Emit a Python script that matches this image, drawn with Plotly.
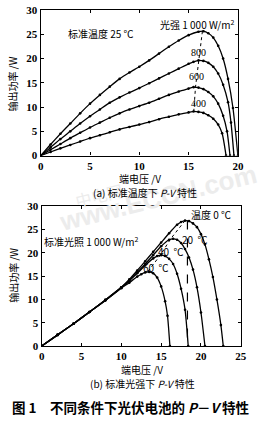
import plotly.graph_objects as go

# ---------------- data: (a) standard temperature 25 C ----------------
v_1000 = [0, 1, 2, 3, 4, 5, 6, 7, 8, 9, 10, 11, 12, 13, 14, 15, 16, 16.5, 17, 17.5, 18, 18.5, 19, 19.5, 20]
p_1000 = [0, 2.3, 4.5, 6.6, 8.7, 10.7, 12.5, 14.2, 15.8, 17.1, 18.3, 19.6, 21.0, 22.4, 23.7, 24.8, 25.5, 25.6, 25.2, 24.3, 22.6, 20.0, 15.8, 9.8, 0]

v_800 = [0, 1, 2, 3, 4, 5, 6, 7, 8, 9, 10, 11, 12, 13, 14, 15, 15.5, 16, 16.5, 17, 17.5, 18, 18.5, 19, 19.3, 19.6]
p_800 = [0, 1.7, 3.4, 5.0, 6.6, 8.1, 9.5, 10.9, 12.0, 13.0, 13.9, 14.9, 15.9, 16.9, 17.9, 18.9, 19.3, 19.6, 19.5, 19.1, 18.3, 16.9, 14.6, 11.0, 6.8, 0]

v_600 = [0, 1, 2, 3, 4, 5, 6, 7, 8, 9, 10, 11, 12, 13, 14, 15, 15.5, 16, 16.5, 17, 17.5, 18, 18.5, 18.9, 19.2]
p_600 = [0, 1.2, 2.4, 3.6, 4.7, 5.8, 6.8, 7.8, 8.7, 9.5, 10.2, 10.9, 11.7, 12.5, 13.2, 13.8, 14.1, 14.0, 13.7, 13.1, 12.2, 10.7, 8.2, 5.0, 0]

v_400 = [0, 1, 2, 3, 4, 5, 6, 7, 8, 9, 10, 11, 12, 13, 14, 15, 15.5, 16, 16.5, 17, 17.5, 18, 18.4, 18.8]
p_400 = [0, 0.75, 1.5, 2.2, 2.9, 3.6, 4.2, 4.8, 5.4, 5.9, 6.4, 6.9, 7.5, 8.0, 8.5, 8.9, 9.1, 9.0, 8.8, 8.3, 7.6, 6.4, 4.6, 0]

mpp_v_a = [16.4, 16.0, 15.7, 15.5]
mpp_p_a = [25.6, 19.6, 14.1, 8.4]

# ---------------- data: (b) standard irradiance 1000 W/m2 ----------------
v_t0 = [0, 2, 4, 6, 8, 10, 11, 12, 13, 14, 15, 16, 17, 17.5, 18, 18.5, 19, 19.5, 20, 20.5, 21, 21.5, 22, 22.5, 22.8]
p_t0 = [0, 2.4, 4.8, 7.3, 9.9, 12.6, 14.3, 16.2, 18.2, 20.2, 22.2, 24.2, 26.0, 26.6, 26.9, 26.8, 26.3, 25.5, 24.0, 21.8, 18.6, 14.8, 10.0, 4.5, 0]

v_t20 = [0, 2, 4, 6, 8, 10, 11, 12, 13, 14, 15, 16, 16.5, 17, 17.5, 18, 18.5, 19, 19.5, 20, 20.5]
p_t20 = [0, 2.4, 4.8, 7.3, 9.9, 12.6, 14.1, 15.8, 17.6, 19.5, 21.4, 22.8, 23.0, 22.8, 22.1, 20.8, 19.0, 16.4, 12.6, 7.2, 0]

v_t40 = [0, 2, 4, 6, 8, 10, 11, 12, 13, 14, 14.5, 15, 15.5, 16, 16.5, 17, 17.5, 18, 18.4]
p_t40 = [0, 2.4, 4.8, 7.3, 9.8, 12.5, 14.0, 15.6, 17.3, 18.8, 19.3, 19.5, 19.3, 18.7, 17.6, 15.5, 12.3, 7.8, 0]

v_t60 = [0, 2, 4, 6, 8, 10, 11, 12, 12.5, 13, 13.5, 14, 14.5, 15, 15.5, 15.8, 16.1]
p_t60 = [0, 2.4, 4.8, 7.3, 9.8, 12.4, 13.6, 14.9, 15.4, 15.8, 15.9, 15.6, 14.7, 12.8, 9.6, 6.5, 0]

mpp_v_b = [18.0, 16.2, 14.9, 13.3]
mpp_p_b = [26.9, 23.0, 19.5, 15.9]
vline_v = [18.3, 18.3]
vline_p = [26.9, 0]

xticks_a = [0, 5, 10, 15, 20]
xticks_b = [0, 5, 10, 15, 20, 25]
yticks = [0, 5, 10, 15, 20, 25, 30]

W, H = 270, 423
def px(x):
    return x / W
def py(y):
    return 1 - y / H

SERIF = "Liberation Serif"
CJK = "Noto Sans CJK SC"

fig = go.Figure()

curve_style = dict(mode="lines+markers", line=dict(color="black", width=1.3, shape="spline", smoothing=0.6),
                   marker=dict(size=2.6, color="black"), showlegend=False, hoverinfo="skip")

for v, p in [(v_1000, p_1000), (v_800, p_800), (v_600, p_600), (v_400, p_400)]:
    fig.add_trace(go.Scatter(x=v, y=p, xaxis="x", yaxis="y", **curve_style))
fig.add_trace(go.Scatter(x=mpp_v_a, y=mpp_p_a, xaxis="x", yaxis="y", mode="lines",
                         line=dict(color="black", width=1, dash="dot"), showlegend=False))

for v, p in [(v_t0, p_t0), (v_t20, p_t20), (v_t40, p_t40), (v_t60, p_t60)]:
    fig.add_trace(go.Scatter(x=v, y=p, xaxis="x2", yaxis="y2", **curve_style))
fig.add_trace(go.Scatter(x=mpp_v_b, y=mpp_p_b, xaxis="x2", yaxis="y2", mode="lines",
                         line=dict(color="black", width=1, dash="dot"), showlegend=False))
fig.add_trace(go.Scatter(x=vline_v, y=vline_p, xaxis="x2", yaxis="y2", mode="lines",
                         line=dict(color="black", width=1.2, dash="dash"), showlegend=False))

axis_common = dict(showgrid=False, zeroline=False, showline=True, linecolor="black", linewidth=1.3,
                   mirror="ticks", ticks="inside", ticklen=3, tickcolor="black", tickwidth=1,
                   tickfont=dict(family=SERIF, size=11, color="black", weight="bold"))

fig.update_layout(
    width=W, height=H, margin=dict(l=0, r=0, t=0, b=0),
    paper_bgcolor="white", plot_bgcolor="white",
    xaxis=dict(domain=[px(39), px(243)], range=[0, 20], tickvals=xticks_a, anchor="y", **axis_common),
    yaxis=dict(domain=[py(154), py(4)], range=[0, 30], tickvals=yticks, anchor="x", **axis_common),
    xaxis2=dict(domain=[px(40), px(246)], range=[0, 25], tickvals=xticks_b, anchor="y2", **axis_common),
    yaxis2=dict(domain=[py(350), py(206)], range=[0, 30], tickvals=yticks, anchor="x2", **axis_common),
)

ann = []
def txt(text, x, y, size=11, family=CJK, xref="paper", yref="paper", **kw):
    ann.append(dict(text=text, x=x, y=y, xref=xref, yref=yref, showarrow=False,
                    font=dict(family=family, size=size, color="black"), xanchor="center", yanchor="middle", **kw))

# watermark
ann.append(dict(text="www.ECCN.com", x=px(160), y=py(198), xref="paper", yref="paper", showarrow=False,
                textangle=-14, font=dict(family="Liberation Sans", size=26, color="#ececec", weight="bold")))
ann.append(dict(text="中电网", x=px(70), y=py(195), xref="paper", yref="paper", showarrow=False,
                textangle=-14, font=dict(family=CJK, size=16, color="#ececec")))

# (a) labels
txt("标准温度 25 ℃", 6.1, 25.2, size=10, xref="x", yref="y")
txt("光强 1 000 W/m<sup>2</sup>", 15.9, 27.0, size=10, xref="x", yref="y")
txt("800", 16.0, 21.2, size=10, family=SERIF, xref="x", yref="y")
txt("600", 15.8, 16.2, size=10, family=SERIF, xref="x", yref="y")
txt("400", 16.0, 10.8, size=10, family=SERIF, xref="x", yref="y")
txt("输出功率 /W", px(10), py(80), size=10, textangle=-90)
txt("端电压 /V", px(142), py(178), size=10)
txt("(a) 标准温度下 <i>P-V</i> 特性", px(147), py(192), size=10)

# (b) labels
txt("温度 0 ℃", 21.3, 28.3, size=10, xref="x2", yref="y2")
txt("标准光照 1 000 W/m<sup>2</sup>", 6.3, 22.4, size=10, xref="x2", yref="y2")
txt("20  ℃", 19.2, 22.9, size=10, xref="x2", yref="y2")
txt("40  ℃", 16.3, 20.3, size=10, xref="x2", yref="y2")
txt("60  ℃", 14.3, 16.8, size=10, xref="x2", yref="y2")
txt("输出功率 /W", px(10), py(277), size=10, textangle=-90)
txt("端电压 /V", px(144), py(374), size=10)
txt("(b) 标准光强下 <i>P-V</i> 特性", px(144), py(389), size=10)

txt("<b>图 1　不同条件下光伏电池的 <i>P</i>－<i>V</i> 特性</b>", px(132), py(413), size=13.5)

fig.update_layout(annotations=ann)
fig.write_html("out.html")
